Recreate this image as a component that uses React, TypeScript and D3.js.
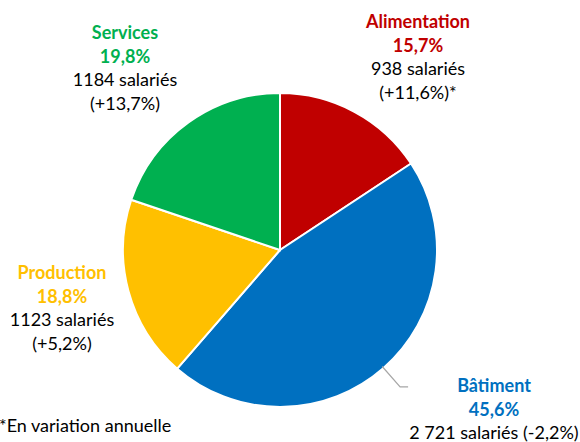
import React from 'react';
import * as d3 from 'd3';

// data
const sectors = ['Alimentation', 'Bâtiment', 'Production', 'Services'];
const shares = [15.7, 45.6, 18.8, 19.8];
const shareLabels = ['15,7%', '45,6%', '18,8%', '19,8%'];
const employeeLabels = ['938 salariés', '2 721 salariés (-2,2%)', '1123 salariés', '1184 salariés'];
const changeLabels = ['(+11,6%)*', '', '(+5,2%)', '(+13,7%)'];
const colors = ['#C00000', '#0070C0', '#FFC000', '#00B050'];

// label anchor (centre of first line) for each sector
const labelPos: [number, number][] = [[418, 21], [494, 385], [62, 272], [125, 32]];

const W = 580, H = 442;
const cx = 280, cy = 250, radius = 157;
const lineGap = 23.5;
const font = 'Lato, "Open Sans", sans-serif';

export default function App() {
  const pie = d3.pie<number>().sort(null).value(d => d);
  const arcs = pie(shares);
  const arc = d3.arc<d3.PieArcDatum<number>>().innerRadius(0).outerRadius(radius);

  // leader line for Bâtiment
  const b = arcs[1];
  const mid = (b.startAngle + b.endAngle) / 2;
  const pt = (r: number): [number, number] => [cx + r * Math.sin(mid), cy - r * Math.cos(mid)];
  const p1 = pt(radius - 2);
  const p2 = pt(radius * 1.16);
  const leader = d3.line()([p1, p2, [p2[0] + 8, p2[1]]]);

  return (
    <svg width={W} height={H} style={{ position: 'absolute', left: 0, top: 0, background: '#fff' }}>
      <g transform={`translate(${cx},${cy})`}>
        {arcs.map((a, i) => (
          <path key={sectors[i]} d={arc(a) || ''} fill={colors[i]} stroke="#fff" strokeWidth={2} />
        ))}
      </g>
      <path d={leader || ''} fill="none" stroke="#A6A6A6" strokeWidth={1.2} />
      {sectors.map((s, i) => {
        const [x, y] = labelPos[i];
        const lines = [
          { t: s, c: colors[i], w: 700 },
          { t: shareLabels[i], c: colors[i], w: 700 },
          { t: employeeLabels[i], c: '#000', w: 400 },
          { t: changeLabels[i], c: '#000', w: 400 },
        ].filter(l => l.t);
        return (
          <g key={s}>
            {lines.map((l, j) => (
              <text key={j} x={x} y={y + j * lineGap} textAnchor="middle" dominantBaseline="central"
                fontFamily={font} fontSize={18} fontWeight={l.w} fill={l.c}>{l.t}</text>
            ))}
          </g>
        );
      })}
      <text x={-1} y={425} dominantBaseline="central" fontFamily={font} fontSize={18} fill="#000">*En variation annuelle</text>
    </svg>
  );
}
